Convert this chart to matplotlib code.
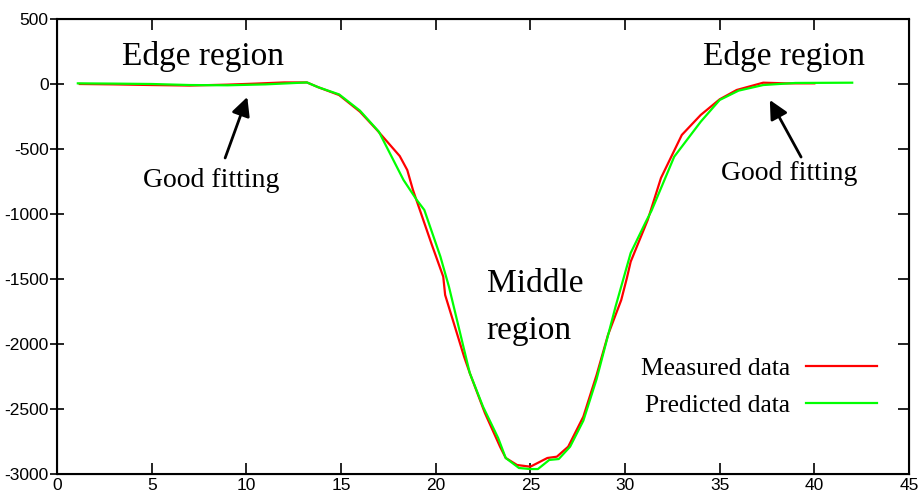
import matplotlib.pyplot as plt
import numpy as np

# measured curve (red)
meas_x = [1.2, 3, 5, 7, 9, 10.5, 12, 13.2, 13.8, 14.9, 16.0, 16.9, 18.1, 18.5, 18.8,
          19.4, 19.8, 20.4, 20.5, 21.0, 21.5, 21.8, 22.6, 23.4, 23.7, 24.3, 25.0,
          25.9, 26.4, 27.0, 27.8, 28.5, 29.1, 29.8, 30.1, 30.3, 31.2, 31.9, 33.0,
          34.0, 35.0, 35.9, 37.3, 38.5, 40.0]
meas_y = [0, -3, -8, -12, -5, 3, 12, 12, -25, -85, -213, -354, -554, -662, -815,
          -1069, -1238, -1482, -1623, -1860, -2097, -2223, -2531, -2790, -2877, -2931, -2944,
          -2877, -2867, -2790, -2559, -2238, -1931, -1662, -1492, -1367, -1046, -723, -392,
          -238, -118, -46, 10, 5, 5]

# predicted curve (green)
pred_x = [1.1, 3, 5, 7, 9, 11, 13.2, 13.8, 14.9, 16.0, 17.0, 18.3, 19.0, 19.4, 20.25,
          20.7, 21.8, 22.5, 23.3, 23.7, 24.4, 25.0, 25.4, 26.0, 26.5, 27.1, 27.8, 28.5,
          29.5, 30.3, 31.1, 31.4, 32.6, 34.0, 35.0, 36.0, 37.3, 39.0, 42.0]
pred_y = [5, 3, 0, -8, -10, -3, 12, -25, -80, -205, -367, -738, -892, -969, -1328,
          -1559, -2223, -2482, -2723, -2877, -2954, -2962, -2962, -2892, -2885, -2790, -2590, -2270,
          -1713, -1300, -1060, -975, -559, -290, -123, -51, -8, 8, 10]

xticks = np.arange(0, 46, 5)
yticks = np.arange(-3000, 501, 500)

serif = 'Liberation Serif'
plt.rcParams['font.family'] = 'Liberation Sans'
plt.rcParams['axes.unicode_minus'] = False

fig = plt.figure(figsize=(9.18, 4.96), dpi=100)
ax = fig.add_axes([0.0621, 0.0444, 0.9281, 0.9173])

ax.plot(meas_x, meas_y, color='#ff0000', lw=1.6, label='Measured data')
ax.plot(pred_x, pred_y, color='#00ff00', lw=1.6, label='Predicted data')

ax.set_xlim(0, 45)
ax.set_ylim(-3000, 500)
ax.set_xticks(xticks)
ax.set_yticks(yticks)
ax.tick_params(axis='x', labelsize=12.5, width=1.2, length=8, direction='in',
               top=True, pad=3)
ax.tick_params(axis='y', labelsize=12.5, width=1.2, length=10, direction='inout',
               right=False, pad=1)
for s in ax.spines.values():
    s.set_linewidth(1.5)

# right side ticks point inward
ax2 = ax.twinx()
ax2.set_ylim(ax.get_ylim())
ax2.set_yticks(yticks)
ax2.tick_params(axis='y', direction='in', length=8, width=1.2, labelright=False)

ax.text(7.72, 215, 'Edge region', family=serif, fontsize=24, ha='center', va='center')
ax.text(38.4, 215, 'Edge region', family=serif, fontsize=24, ha='center', va='center')
ax.text(8.14, -746, 'Good fitting', family=serif, fontsize=20, ha='center', va='center')
ax.text(38.66, -685, 'Good fitting', family=serif, fontsize=20, ha='center', va='center')
ax.text(22.69, -1538, 'Middle', family=serif, fontsize=24, ha='left', va='center')
ax.text(22.69, -1900, 'region', family=serif, fontsize=24, ha='left', va='center')

arrow = dict(arrowstyle='-|>', lw=2, color='k', mutation_scale=28, shrinkA=0, shrinkB=0)
ax.annotate('', xy=(10.05, -100), xytext=(8.88, -569), arrowprops=arrow)
ax.annotate('', xy=(37.65, -123), xytext=(39.3, -562), arrowprops=arrow)

leg = ax.legend(loc='upper left', bbox_to_anchor=(0.658, 0.3066), frameon=False,
                markerfirst=False, handlelength=2.75, handletextpad=0.65,
                labelspacing=0.55, prop={'family': serif, 'size': 18.4})

fig.savefig('out.png', dpi=100)
